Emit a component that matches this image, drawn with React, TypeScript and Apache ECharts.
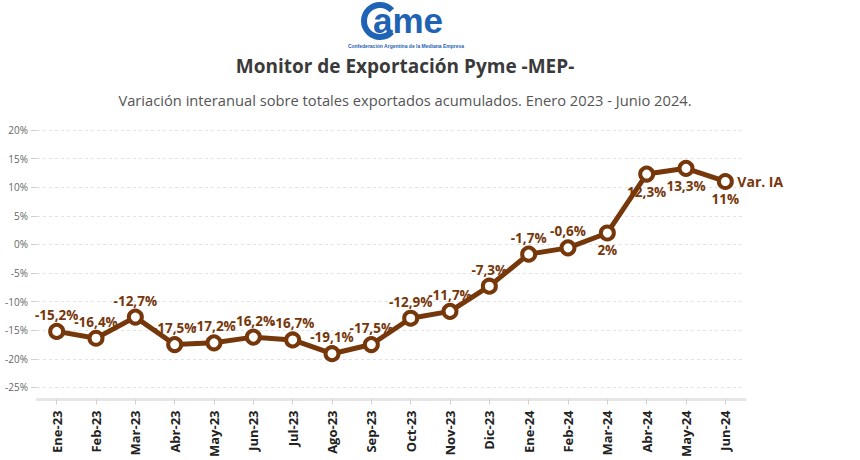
import React, { useEffect, useRef } from "react";
import * as echarts from "echarts";

const categories = [
  "Ene-23", "Feb-23", "Mar-23", "Abr-23", "May-23", "Jun-23", "Jul-23", "Ago-23", "Sep-23",
  "Oct-23", "Nov-23", "Dic-23", "Ene-24", "Feb-24", "Mar-24", "Abr-24", "May-24", "Jun-24",
];
const varIA = [
  -15.2, -16.4, -12.7, -17.5, -17.2, -16.2, -16.7, -19.1, -17.5,
  -12.9, -11.7, -7.3, -1.7, -0.6, 2, 12.3, 13.3, 11,
];
const labelsBelow = ["Mar-24", "Abr-24", "May-24", "Jun-24"];
const seriesName = "Var. IA";
const titleText = "Monitor de Exportación Pyme -MEP-";
const subtitleText = "Variación interanual sobre totales exportados acumulados. Enero 2023 - Junio 2024.";

const BROWN = "#76370b";
const BLUE = "#1f63b4";
const FONT = "'Open Sans', 'Noto Sans', sans-serif";

const fmt = (v: number) => `${String(v).replace(".", ",")}%`;

export default function App() {
  const ref = useRef<HTMLDivElement>(null);
  useEffect(() => {
    if (!ref.current) return;
    const chart = echarts.init(ref.current, null, { renderer: "svg" });
    const data = varIA.map((v, i) => {
      const below = labelsBelow.includes(categories[i]);
      return {
        value: v,
        label: below ? { position: "bottom", distance: 2 } : { position: "top", distance: 1 },
      };
    });
    chart.setOption({
      animation: false,
      textStyle: { fontFamily: FONT },
      graphic: [
        {
          type: "arc",
          shape: { cx: 380, cy: 21, r: 16, startAngle: 0.75, endAngle: 5.55 },
          style: { stroke: BLUE, lineWidth: 6, fill: "none" },
        },
        {
          type: "text",
          x: 373,
          y: 3,
          style: {
            text: "ame",
            fill: BLUE,
            font: "bold 35px 'Liberation Sans', Arial, sans-serif",
          },
        },
        {
          type: "text",
          x: 406,
          y: 43,
          style: {
            text: "Confederación Argentina de la Mediana Empresa",
            fill: BLUE,
            font: "bold 5px 'Liberation Sans', Arial, sans-serif",
            align: "center",
          },
        },
        {
          type: "text",
          x: 405,
          y: 56,
          style: {
            text: titleText,
            fill: "#3a3a3a",
            font: `bold 19px ${FONT}`,
            align: "center",
          },
        },
        {
          type: "text",
          x: 405,
          y: 92,
          style: {
            text: subtitleText,
            fill: "#555",
            font: `14.7px ${FONT}`,
            align: "center",
          },
        },
      ],
      grid: { left: 37, right: 115, top: 130, bottom: 72 },
      xAxis: {
        type: "category",
        data: categories,
        boundaryGap: true,
        offset: 12,
        axisLine: { show: true, onZero: false, lineStyle: { color: "#e6e6e6", width: 3 } },
        axisTick: { show: true, alignWithLabel: true, length: 5, lineStyle: { color: "#cfcfcf" } },
        axisLabel: {
          rotate: 90,
          margin: 11,
          color: "#222",
          fontWeight: "bold",
          fontSize: 13,
          fontFamily: FONT,
        },
      },
      yAxis: {
        type: "value",
        min: -25,
        max: 20,
        interval: 5,
        axisLine: { show: false },
        axisTick: { show: true, length: 6, lineStyle: { color: "#d0d0d0" } },
        axisLabel: {
          margin: 9,
          color: "#666",
          fontSize: 10,
          fontFamily: FONT,
          formatter: (v: number) => `${v}%`,
        },
        splitLine: { show: true, lineStyle: { color: "#e2e2e2", type: [3, 3] } },
      },
      series: [
        {
          name: seriesName,
          type: "line",
          data,
          symbol: "circle",
          symbolSize: 13,
          itemStyle: { color: "#fff", borderColor: BROWN, borderWidth: 4 },
          lineStyle: { color: BROWN, width: 5 },
          label: {
            show: true,
            color: BROWN,
            fontWeight: "bold",
            fontSize: 13.5,
            fontFamily: FONT,
            formatter: (p: any) => fmt(p.value),
          },
          endLabel: {
            show: true,
            formatter: seriesName,
            color: BROWN,
            fontWeight: "bold",
            fontSize: 14,
            fontFamily: FONT,
            distance: 12,
          },
        },
      ],
    });
    return () => chart.dispose();
  }, []);
  return (
    <div
      ref={ref}
      style={{ position: "absolute", left: 0, top: 0, width: 860, height: 460, background: "#fff" }}
    />
  );
}
